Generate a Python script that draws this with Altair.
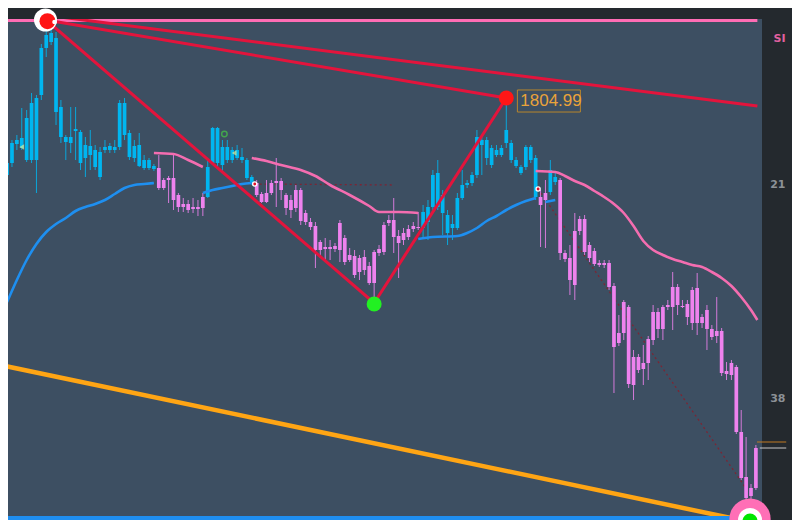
import altair as alt
import pandas as pd

# ---------------- data (candle index, price) ----------------
X_DOMAIN = [1.2097, 153.2258]
Y_DOMAIN = [1594, 1844.5]

body_hi = [1772.5, 1782.5, 1784, 1785, 1795, 1802.5, 1805, 1830, 1836.5, 1837.5,
 1835, 1800.5, 1785.5, 1785.5, 1789.5, 1788, 1781.5, 1781, 1779, 1778,
 1780.5, 1781, 1780.5, 1802.5, 1802.5, 1787.5, 1781, 1781.5, 1774, 1774,
 1771, 1770, 1764, 1765, 1765, 1756.5, 1752, 1752, 1750.5, 1750.5,
 1755.5, 1770.5, 1790, 1790, 1780.5, 1780.5, 1779, 1779, 1775.5, 1774,
 1765.5, 1762.5, 1757, 1757.5, 1762.5, 1763.5, 1763.5, 1756.5, 1754, 1759,
 1759, 1747.5, 1743, 1741, 1733, 1730.5, 1730.5, 1731, 1742.5, 1735,
 1726.5, 1726, 1725, 1725.5, 1721, 1728, 1729.5, 1741.5, 1744, 1744,
 1736, 1737.5, 1739.5, 1741, 1740.5, 1748, 1750.5, 1766.5, 1767.5, 1756.5,
 1746.5, 1742, 1755, 1761.5, 1762.5, 1766.5, 1785.5, 1784, 1784, 1780,
 1779, 1780, 1789, 1782.5, 1774, 1770.5, 1780.5, 1780.5, 1775, 1755.5,
 1757.5, 1769, 1765.5, 1764, 1727.5, 1725, 1738.5, 1744.5, 1744.5, 1731.5,
 1728.5, 1722.5, 1722.5, 1722.5, 1711, 1687.5, 1703, 1700.5, 1675.5, 1675.5,
 1672.5, 1684.5, 1698, 1698, 1700.5, 1701.5, 1710.5, 1710.5, 1701, 1702,
 1709, 1710, 1695.5, 1699, 1689.5, 1688.5, 1688.5, 1668.5, 1672.5, 1670.5,
 1638, 1615.5, 1610, 1630]

body_lo = [1766.5, 1772.5, 1782, 1780, 1774, 1774, 1774, 1806.5, 1830, 1833,
 1798, 1785.5, 1783, 1782.5, 1788.5, 1772.5, 1775, 1776.5, 1770.5, 1765.5,
 1779, 1779, 1779, 1780.5, 1786.5, 1775.5, 1775, 1771, 1770, 1770,
 1769.5, 1760, 1760, 1764, 1754, 1750.5, 1750.5, 1749, 1749.5, 1749.5,
 1750, 1755.5, 1772.5, 1772.5, 1771.5, 1774, 1774, 1775, 1774, 1765,
 1762.5, 1756.5, 1753, 1753, 1757.5, 1762.5, 1759, 1750, 1749, 1750,
 1743.5, 1743, 1740.5, 1729, 1729, 1729.5, 1729.5, 1729.5, 1729, 1723,
 1724, 1716.5, 1718, 1719, 1712.5, 1712.5, 1727.5, 1728, 1742.5, 1735.5,
 1732.5, 1734, 1735.5, 1739.5, 1740, 1740, 1743, 1750.5, 1750.5, 1747.5,
 1737.5, 1740, 1740, 1755, 1761.5, 1762.5, 1766.5, 1781.5, 1775, 1771.5,
 1776.5, 1776.5, 1782.5, 1774, 1771, 1767.5, 1770.5, 1774, 1755.5, 1751.5,
 1754, 1758, 1763, 1727.5, 1724.5, 1714, 1711.5, 1738.5, 1728, 1725,
 1722, 1721.5, 1721.5, 1710.5, 1680.5, 1682.5, 1687.5, 1662, 1661.5, 1669,
 1669.5, 1672.5, 1684, 1689.5, 1689.5, 1700.5, 1700.5, 1701.5, 1700.5, 1695.5,
 1692.5, 1692.5, 1692.5, 1689.5, 1685.5, 1686, 1667.5, 1667, 1666.5, 1638,
 1615, 1605, 1606, 1610]

high = [1775, 1784, 1786.5, 1800, 1799, 1807.5, 1806.5, 1832, 1841.5, 1840,
 1838, 1804, 1786.5, 1800.5, 1800.5, 1789, 1785.5, 1789, 1781.5, 1780.5,
 1784, 1782.5, 1784, 1804, 1805, 1789, 1784, 1787.5, 1776.5, 1775,
 1772, 1776.5, 1765, 1766, 1777.5, 1757.5, 1755, 1754, 1755, 1754,
 1757.5, 1774, 1790.5, 1790.5, 1784, 1784, 1780.5, 1781.5, 1780, 1775,
 1766.5, 1764, 1758, 1764, 1764, 1775, 1765, 1757.5, 1756.5, 1761.5,
 1760, 1749, 1745, 1743, 1734, 1735, 1734, 1732.5, 1744, 1736.5,
 1730, 1729, 1726.5, 1729, 1723, 1729, 1731.5, 1743, 1746.5, 1755,
 1739, 1740, 1741.5, 1743, 1748, 1751.5, 1754, 1769, 1774, 1759,
 1749, 1746.5, 1757.5, 1769, 1764, 1768, 1789, 1786.5, 1785.5, 1781.5,
 1781.5, 1781.5, 1805, 1784, 1775.5, 1771.5, 1781.5, 1781.5, 1776.5, 1759,
 1764, 1774, 1768, 1765, 1729, 1731.5, 1747.5, 1746, 1746.5, 1733,
 1730, 1724, 1724, 1724, 1712.5, 1696.5, 1704, 1701.5, 1679, 1677,
 1681.5, 1686, 1701.5, 1700, 1701.5, 1704, 1718, 1712, 1704, 1704,
 1710.5, 1717.5, 1697, 1701.5, 1691.5, 1705.5, 1690, 1673, 1674, 1671.5,
 1649, 1635.5, 1612, 1631.5]

low = [1764, 1770.5, 1779, 1779, 1773, 1772.5, 1757.5, 1804, 1825.5, 1831.5,
 1791.5, 1782.5, 1774, 1777.5, 1774, 1769, 1765.5, 1769, 1769, 1764,
 1777.5, 1777.5, 1777.5, 1779, 1784, 1774, 1773, 1770.5, 1769, 1769,
 1768.5, 1759, 1759, 1752.5, 1749, 1748, 1748, 1747.5, 1747.5, 1746,
 1746, 1755, 1771.5, 1770, 1768, 1772.5, 1772.5, 1774, 1772.5, 1764,
 1761.5, 1755.5, 1752.5, 1752.5, 1756.5, 1750.5, 1754, 1746.5, 1745, 1748,
 1741.5, 1741.5, 1739, 1720, 1725, 1724, 1724, 1728, 1723, 1721.5,
 1723, 1715, 1714, 1716.5, 1711.5, 1702.5, 1726, 1726.5, 1741, 1727.5,
 1715, 1731.5, 1734, 1738, 1739, 1735, 1734, 1749, 1749, 1736.5,
 1731.5, 1734, 1739, 1754, 1760, 1761, 1765, 1766.5, 1771.5, 1770,
 1775.5, 1775.5, 1780, 1772.5, 1770, 1766.5, 1769, 1772.5, 1754, 1730.5,
 1730, 1756.5, 1761.5, 1724, 1723, 1706.5, 1704, 1736.5, 1726.5, 1723,
 1721, 1720.5, 1720, 1709, 1657.5, 1681, 1684, 1660, 1654, 1667.5,
 1661.5, 1664, 1681.5, 1685, 1684, 1699, 1689, 1696.5, 1700, 1691.5,
 1689, 1686.5, 1690, 1679, 1684, 1682.5, 1666, 1664, 1664, 1637,
 1614, 1604, 1601.5, 1609]

trend = (["up"] * 31 + ["down"] * 10 + ["up"] * 10 + ["down"] * 34 +
         ["up"] * 24 + ["down"] * 2 + ["up"] * 2 + ["down"] * 41)

# moving averages: (candle index, value) per visible segment
blue_ma = [
    ([0, 2, 4, 6, 8, 10, 12, 14, 16, 18, 20, 22, 24, 26, 28, 30],
     [1703, 1714, 1724, 1732, 1738, 1742, 1745, 1748.5, 1750.5, 1752, 1754, 1757, 1760, 1761.5, 1762, 1762.5]),
    ([40, 42, 44, 46, 48, 50], [1757.5, 1759, 1760, 1761, 1762, 1762.5]),
    ([84, 87, 92, 94, 96, 98, 100, 102, 104, 106, 108],
     [1734.5, 1735.5, 1736, 1737.5, 1740, 1743.5, 1746, 1749, 1751.5, 1753.5, 1755]),
    ([110, 112], [1753, 1754]),
]
pink_ma = [
    ([30, 34, 37, 40], [1777.5, 1777, 1774, 1770.5]),
    ([50, 53, 56, 60, 63, 66, 70, 74, 76, 80, 84],
     [1775, 1773.5, 1771.5, 1769, 1766, 1761.5, 1756.5, 1751, 1748, 1748, 1747.5]),
    ([108, 112, 114, 116, 118, 120, 122, 124, 126, 128, 130, 132, 134, 136, 138, 140, 142, 144, 146, 148, 150, 152, 153.3],
     [1768.5, 1768, 1766, 1763.5, 1761.5, 1758.5, 1755.5, 1752, 1747.5, 1741, 1733.5, 1729, 1726.5, 1724.5,
      1723, 1721.5, 1720.5, 1718, 1715, 1711, 1705.5, 1699, 1694]),
]

# trend lines (start index, start price, end index, end price)
red_lines = [(-0.4, 1849, 153.3, 1801), (8, 1844, 102, 1805), (8, 1844, 75, 1702.5), (75, 1702.5, 102, 1805)]
orange_line = (-0.4, 1671, 151.8, 1593)
dotted_lines = [(50.6, 1762, 79.2, 1761.5), (108.5, 1759.5, 150.8, 1610.5)]
top_level = 1843.75
bottom_level = 1595

peak = (102, 1805, "1804.99")
low_pivot = (75, 1702)
high_pivot = (8, 1844)
last_signal = (151.8, 1594.5)

axis_texts = ["SI", "21", "38"]
axis_text_idx = [159.05, 159.05, 159.05]
axis_text_price = [1834.5, 1761.5, 1654.5]
axis_text_color = ["#e0609f", "#8c9196", "#8c9196"]

# ---------------- chart ----------------
xs = alt.Scale(domain=X_DOMAIN, nice=False, zero=False)
ys = alt.Scale(domain=Y_DOMAIN, nice=False, zero=False)
X = lambda f="i": alt.X(f"{f}:Q", scale=xs, axis=None)
Y = lambda f="p": alt.Y(f"{f}:Q", scale=ys, axis=None)

candles = pd.DataFrame({"i": list(range(len(body_hi))), "bh": body_hi, "bl": body_lo,
                        "hi": high, "lo": low, "trend": trend})
cscale = alt.Scale(domain=["up", "down"], range=["#00b6f0", "#ee82ee"])

wicks = alt.Chart(candles).mark_rule(strokeWidth=1, clip=True, opacity=0.85).encode(
    x=X(), y=Y("lo"), y2="hi", color=alt.Color("trend:N", scale=cscale, legend=None))
bodies = alt.Chart(candles).mark_bar(size=3.7, clip=True).encode(
    x=X(), y=Y("bl"), y2="bh", color=alt.Color("trend:N", scale=cscale, legend=None))


def seg_df(segs):
    rows = []
    for k, (ii, pp) in enumerate(segs):
        for a, b in zip(ii, pp):
            rows.append({"i": a, "p": b, "seg": k})
    return pd.DataFrame(rows)


def ma_layer(segs, color):
    return alt.Chart(seg_df(segs)).mark_line(color=color, strokeWidth=2.6, clip=True,
                                             interpolate="monotone").encode(
        x=X(), y=Y(), detail="seg:N", order="i:Q")


def lines_df(lines):
    rows = []
    for k, (a, b, c, d) in enumerate(lines):
        rows.append({"i": a, "p": b, "seg": k})
        rows.append({"i": c, "p": d, "seg": k})
    return pd.DataFrame(rows)


blue_ma_l = ma_layer(blue_ma, "#1e8ff0")
pink_ma_l = ma_layer(pink_ma, "#f46db0")

red_l = alt.Chart(lines_df(red_lines)).mark_line(color="#e3143c", strokeWidth=3, clip=True).encode(
    x=X(), y=Y(), detail="seg:N")
orange_l = alt.Chart(lines_df([orange_line])).mark_line(color="#ffa514", strokeWidth=4.5, clip=True).encode(
    x=X(), y=Y(), detail="seg:N")
dotted_l = alt.Chart(lines_df(dotted_lines)).mark_line(color="#7c2534", strokeWidth=1.3,
                                                        strokeDash=[2, 3], clip=True).encode(
    x=X(), y=Y(), detail="seg:N")

levels = pd.DataFrame({"i": [-1, -1], "i2": [153.3, 153.3], "p": [top_level, bottom_level]})
top_l = alt.Chart(levels.iloc[[0]]).mark_rule(strokeWidth=3, color="#ff6db5", clip=True).encode(
    x=X(), x2="i2", y=Y())
bot_l = alt.Chart(levels.iloc[[1]]).mark_rule(strokeWidth=4, color="#1f8ef0", clip=True).encode(
    x=X(), x2="i2", y=Y())

# right-hand price scale bits
side_lines = alt.Chart(pd.DataFrame({"i": [153.23, 153.8], "i2": [159.2, 159.2], "p": [1633, 1630],
                                     "c": ["#c07a22", "#c9c9c9"]})).mark_rule(strokeWidth=1, clip=False).encode(
    x=X(), x2="i2", y=Y(), color=alt.Color("c:N", scale=None))
side_text = alt.Chart(pd.DataFrame({"i": axis_text_idx, "p": axis_text_price, "t": axis_texts,
                                    "c": axis_text_color})).mark_text(
    align="right", baseline="middle", fontSize=11, fontWeight="bold", font="DejaVu Sans", clip=False).encode(
    x=X(), y=Y(), text="t:N", color=alt.Color("c:N", scale=None))


def dot(i, p, size, color, **kw):
    return alt.Chart(pd.DataFrame({"i": [i], "p": [p]})).mark_point(
        shape="circle", filled=True, size=size, color=color, opacity=1, clip=False, **kw).encode(x=X(), y=Y())


markers = [
    dot(high_pivot[0] - 0.15, high_pivot[1], 529, "#ffffff"),
    dot(high_pivot[0] + 0.25, high_pivot[1] - 0.6, 256, "#ff1414"),
    dot(high_pivot[0] + 1.7, high_pivot[1] - 1.0, 22, "#ffffff"),
    dot(peak[0], peak[1], 225, "#ff1616"),
    dot(low_pivot[0], low_pivot[1], 225, "#22f022"),
    dot(last_signal[0], last_signal[1], 1700, "#ff6fb6"),
    dot(last_signal[0], last_signal[1] - 0.5, 576, "#ffffff"),
    dot(last_signal[0], last_signal[1] - 1.0, 225, "#00e600"),
    dot(50.6, 1762, 30, "#ffffff"),
    dot(108.5, 1759.5, 30, "#ffffff"),
    dot(50.6, 1762, 8, "#e0102a"),
    dot(108.5, 1759.5, 8, "#e0102a"),
]
ring = alt.Chart(pd.DataFrame({"i": [44.4], "p": [1787]})).mark_point(
    shape="circle", filled=False, size=30, color="#46c846", strokeWidth=1.5, clip=False).encode(x=X(), y=Y())
tri = alt.Chart(pd.DataFrame({"i": [3, 46.4], "p": [1780.5, 1777.5]})).mark_point(
    shape="triangle-left", filled=True, size=30, color="#d8f0a0", clip=False).encode(x=X(), y=Y())

pk = pd.DataFrame({"i": [peak[0]], "p": [peak[1]], "t": [peak[2]]})
label_box = alt.Chart(pk).mark_point(
    shape="M-1,-0.35L1,-0.35L1,0.35L-1,0.35Z", size=3969, filled=False, color="#b8862c",
    strokeWidth=1, opacity=1, xOffset=42.6, yOffset=3, clip=False).encode(x=X(), y=Y())
label_txt = alt.Chart(pk).mark_text(
    align="left", baseline="middle", dx=14, dy=3, fontSize=17, font="Liberation Sans",
    color="#eaa33a", clip=False).encode(x=X(), y=Y(), text="t:N")

chart = alt.layer(
    orange_l, bot_l, top_l, dotted_l, wicks, bodies, pink_ma_l, blue_ma_l, red_l,
    ring, tri, *markers, label_box, label_txt, side_lines, side_text
).properties(
    width=754, height=501,
    autosize=alt.AutoSizeParams(type="none"),
    padding={"left": 0, "top": 11, "right": 30, "bottom": 0},
    background="#24292e",
).configure_view(fill="#3d4f62", stroke=None)

chart.save("out.html", embed_options={"renderer": "svg", "actions": False})
